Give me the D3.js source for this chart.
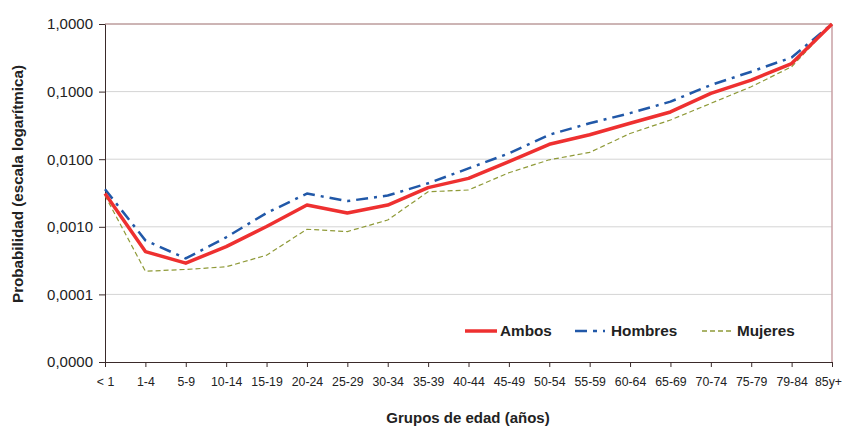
<!DOCTYPE html>
<html><head><meta charset="utf-8">
<script src="https://cdn.jsdelivr.net/npm/d3@7/dist/d3.min.js"></script>
<style>body{margin:0;background:#fff}svg{display:block;font-family:"Liberation Sans",Arial,sans-serif}</style>
</head><body><svg id="c" width="843" height="428"></svg>
<script>
const categories = ["< 1","1-4","5-9","10-14","15-19","20-24","25-29","30-34","35-39","40-44","45-49","50-54","55-59","60-64","65-69","70-74","75-79","79-84","85y+"];
const ambos = [0.0031,0.00043,0.00029,0.00051,0.00101,0.0021,0.0016,0.0021,0.0038,0.0052,0.0092,0.0166,0.023,0.034,0.050,0.094,0.148,0.26,1.0];
const hombres = [0.0036,0.00063,0.00034,0.00070,0.0016,0.0031,0.0024,0.0029,0.0044,0.0073,0.0122,0.023,0.034,0.048,0.071,0.125,0.197,0.32,1.0];
const mujeres = [0.0029,0.00022,0.000234,0.000256,0.00038,0.00092,0.00085,0.00126,0.0033,0.0035,0.0063,0.0098,0.0126,0.024,0.038,0.067,0.118,0.233,1.0];
const yTicks = [1,0.1,0.01,0.001,0.0001,0.00001];
const yTickLabels = ["1,0000","0,1000","0,0100","0,0010","0,0001","0,0000"];
const seriesNames = ["Ambos","Hombres","Mujeres"];

const svg = d3.select("#c");
const L=105,R=832,T=24,B=362;
const x = d3.scalePoint().domain(categories).range([L,R]);
const y = d3.scaleLog().domain([0.00001,1]).range([B,T]);

// gridlines
svg.append("g").selectAll("line").data(yTicks.slice(1,5)).join("line")
  .attr("x1",L).attr("x2",R).attr("y1",d=>y(d)).attr("y2",d=>y(d))
  .attr("stroke","#d4d4d4").attr("stroke-width",1);
// top/right border
svg.append("line").attr("x1",L).attr("x2",R).attr("y1",T).attr("y2",T).attr("stroke","#9a6a6a").attr("stroke-width",1);
svg.append("line").attr("x1",R).attr("x2",R).attr("y1",T).attr("y2",B).attr("stroke","#c9a0a4").attr("stroke-width",1.5);

// y axis
const ya = svg.append("g").attr("transform",`translate(${L},0)`)
  .call(d3.axisLeft(y).tickValues(yTicks).tickFormat((d,i)=>yTickLabels[i]).tickSize(6).tickSizeOuter(0));
ya.select(".domain").attr("stroke","#3a2a2a");
ya.selectAll(".tick line").attr("stroke","#3a2a2a");
ya.selectAll("text").attr("font-size",15).attr("fill","#222").attr("x",-12).attr("font-family","Liberation Sans, Arial");

// x axis
const xa = svg.append("g").attr("transform",`translate(0,${B})`)
  .call(d3.axisBottom(x).tickSize(5).tickSizeOuter(0));
xa.select(".domain").attr("stroke","#3a2a2a");
xa.selectAll(".tick line").attr("stroke","#3a2a2a");
xa.selectAll("text").attr("font-size",12.3).attr("fill","#222").attr("y",15).attr("font-family","Liberation Sans, Arial");
xa.selectAll(".tick").filter(d=>d==="85y+").select("text").attr("dx",-4);

// lines
const line = d3.line().x((d,i)=>x(categories[i])).y(d=>y(d));
const styles = [
  {data:mujeres,color:"#8f9a38",w:1.2,dash:"5,3"},
  {data:hombres,color:"#2158a8",w:2.5,dash:"12,6,3,6"},
  {data:ambos,color:"#ee3030",w:3.5,dash:null}
];
styles.forEach(s=>{
  svg.append("path").datum(s.data).attr("d",line).attr("fill","none")
    .attr("stroke",s.color).attr("stroke-width",s.w)
    .attr("stroke-dasharray",s.dash).attr("stroke-linejoin","round");
});

// legend
const leg = [
  {name:seriesNames[0],x1:465,x2:497,tx:500,color:"#ee3030",w:3.5,dash:null},
  {name:seriesNames[1],x1:575,x2:605,tx:611,color:"#2158a8",w:2.5,dash:"12,6,4,6"},
  {name:seriesNames[2],x1:702,x2:733,tx:737,color:"#8f9a38",w:1.5,dash:"5,3"}
];
leg.forEach(l=>{
  svg.append("line").attr("x1",l.x1).attr("x2",l.x2).attr("y1",331).attr("y2",331)
    .attr("stroke",l.color).attr("stroke-width",l.w).attr("stroke-dasharray",l.dash);
  svg.append("text").attr("x",l.tx).attr("y",336).text(l.name)
    .attr("font-size",15.3).attr("font-weight","bold").attr("fill","#222");
});

// axis titles
svg.append("text").attr("x",468).attr("y",423).attr("text-anchor","middle")
  .attr("font-size",15).attr("font-weight","bold").attr("fill","#222").text("Grupos de edad (años)");
svg.append("text").attr("transform","translate(23,184) rotate(-90)").attr("text-anchor","middle")
  .attr("font-size",15.2).attr("font-weight","bold").attr("fill","#222").text("Probabilidad (escala logarítmica)");
</script></body></html>
